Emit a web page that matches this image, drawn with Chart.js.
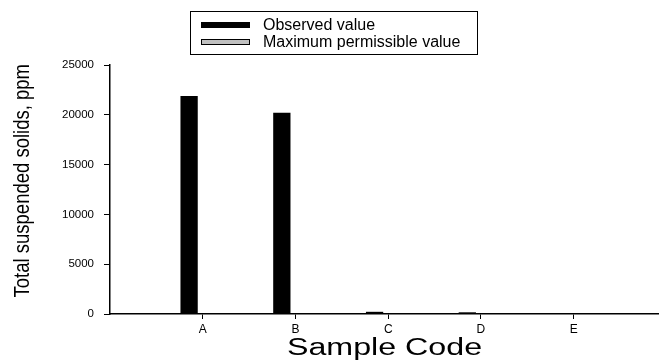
<!DOCTYPE html>
<html>
<head>
<meta charset="utf-8">
<title>Total suspended solids by sample</title>
<script src="https://cdn.jsdelivr.net/npm/chart.js@4/dist/chart.umd.min.js"></script>
<style>
  html, body { margin: 0; padding: 0; background: #fff; }
  #c { display: block; }
</style>
</head>
<body>
<canvas id="c" width="659" height="360"></canvas>
<script>
// Samples and measured total suspended solids (ppm)
const sampleCodes = ['A', 'B', 'C', 'D', 'E'];
const observedValue = [21900, 20200, 220, 170, 20];
const permissibleValue = [30, 30, 30, 30, 30];
const yTickValues = [0, 5000, 10000, 15000, 20000, 25000];
const seriesNames = ['Observed value', 'Maximum permissible value'];
const xAxisTitle = 'Sample Code';
const yAxisTitle = 'Total suspended solids, ppm';

const FONT = "'Liberation Sans', Arial, Helvetica, sans-serif";

// Framed legend drawn above the plot
const boxedLegend = {
  id: 'boxedLegend',
  afterDraw(chart) {
    const ctx = chart.ctx;
    ctx.save();
    ctx.strokeStyle = '#000';
    ctx.lineWidth = 1;
    ctx.strokeRect(190.5, 11.5, 287, 43);
    ctx.font = '16px ' + FONT;
    ctx.textBaseline = 'middle';
    ctx.textAlign = 'left';
    chart.data.datasets.forEach((ds, i) => {
      const cy = 25 + i * 17;
      ctx.fillStyle = ds.backgroundColor;
      ctx.fillRect(201, cy - 3, 49, 6);
      ctx.strokeStyle = '#000';
      ctx.strokeRect(201.5, cy - 2.5, 48, 5);
      ctx.fillStyle = '#000';
      ctx.fillText(ds.label, 263, cy + 0.5);
    });
    ctx.restore();
  }
};

// Axis titles, drawn in a slightly widened face
const axisTitles = {
  id: 'axisTitles',
  afterDraw(chart) {
    const ctx = chart.ctx;
    const area = chart.chartArea;
    ctx.save();
    ctx.fillStyle = '#000';
    ctx.textAlign = 'center';
    ctx.textBaseline = 'middle';

    // x title, centred under the plot
    ctx.save();
    ctx.translate((area.left + area.right) / 2, 349);
    ctx.scale(1.4, 1);
    ctx.font = '23px ' + FONT;
    ctx.fillText(xAxisTitle, 0, 0);
    ctx.restore();

    // y title, rotated, starting level with the top of the axis
    ctx.save();
    ctx.translate(23, area.top - 1);
    ctx.rotate(-Math.PI / 2);
    ctx.scale(1, 1.15);
    ctx.font = '18.5px ' + FONT;
    ctx.textAlign = 'right';
    ctx.fillText(yAxisTitle, 0, 0);
    ctx.restore();

    ctx.restore();
  }
};

const barShape = { categoryPercentage: 0.588, barPercentage: 0.634 };

new Chart(document.getElementById('c'), {
  type: 'bar',
  data: {
    datasets: [
      Object.assign({
        label: seriesNames[0],
        data: sampleCodes.map((c, i) => ({ x: i + 1, y: observedValue[i] })),
        backgroundColor: '#000000',
        borderColor: '#000000',
        borderWidth: 0
      }, barShape),
      Object.assign({
        label: seriesNames[1],
        data: sampleCodes.map((c, i) => ({ x: i + 1, y: permissibleValue[i] })),
        backgroundColor: '#c0c0c0',
        borderColor: '#000000',
        borderWidth: 1
      }, barShape)
    ]
  },
  options: {
    responsive: false,
    animation: false,
    devicePixelRatio: 1,
    layout: { padding: { top: 65, right: 0, bottom: 0, left: 0 } },
    plugins: { legend: { display: false }, tooltip: { enabled: false } },
    scales: {
      x: {
        type: 'linear',
        offset: false,
        min: 0,
        max: 5.92,
        afterBuildTicks(scale) {
          scale.ticks = sampleCodes.map((c, i) => ({ value: i + 1 }));
        },
        afterFit(scale) { scale.height = 46; },
        ticks: {
          callback: (v) => sampleCodes[v - 1] || '',
          color: '#000',
          font: { family: FONT, size: 12 },
          padding: 3,
          maxRotation: 0,
          autoSkip: false
        },
        grid: { offset: false, drawOnChartArea: false, drawTicks: true, tickLength: 5, color: '#000', lineWidth: 1 },
        border: { display: true, color: '#000', width: 1.5 },
        title: { display: false }
      },
      y: {
        min: 0,
        max: 25000,
        afterBuildTicks(scale) {
          scale.ticks = yTickValues.map(v => ({ value: v }));
        },
        afterFit(scale) { scale.width = 110; },
        ticks: {
          callback: (v) => String(v),
          color: '#000',
          font: { family: FONT, size: 11.5 },
          padding: 10
        },
        grid: { drawOnChartArea: false, drawTicks: true, tickLength: 6, color: '#000', lineWidth: 1 },
        border: { display: true, color: '#000', width: 1.5 },
        title: { display: false }
      }
    }
  },
  plugins: [boxedLegend, axisTitles]
});
</script>
</body>
</html>
